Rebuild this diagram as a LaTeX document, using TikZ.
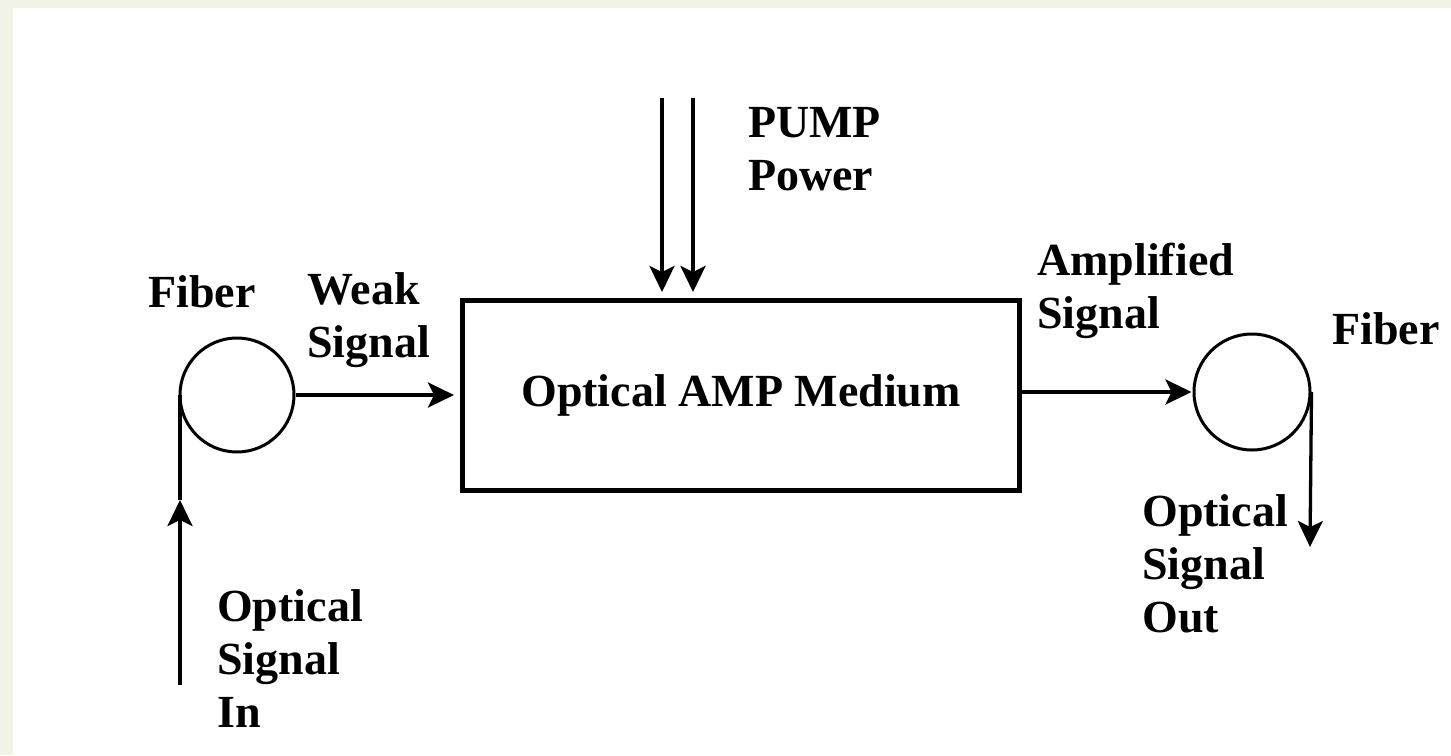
\documentclass[tikz,border=0pt]{standalone}
\usepackage{fontspec}
\setmainfont{Liberation Serif}
\usetikzlibrary{arrows.meta}
\definecolor{bgc}{HTML}{F0F3E6}
\begin{document}
\begin{tikzpicture}[x=1pt,y=-1pt,
  lbl/.style={font=\fontsize{46}{53}\selectfont\bfseries, inner sep=0pt, anchor=base west, align=left},
  conn/.style={line width=3.3pt, -{Stealth[length=26pt,width=25pt,inset=6pt]}},
  plain/.style={line width=3.3pt},
  fibre/.style={circle, draw, line width=3pt, inner sep=0pt},
  medium/.style={rectangle, draw, line width=5pt, minimum width=557pt, minimum height=190pt, inner sep=0pt,
                 font=\fontsize{46}{53}\selectfont\bfseries}]
\useasboundingbox (0,0) rectangle (1451,755);
\fill[bgc] (0,0) rectangle (1451,755);
\fill[white] (13,8) rectangle (1451,755);

\node[medium] (box) at (741,395.5) {Optical AMP Medium};
\node[fibre, minimum size=114pt] (lc) at (237,395) {};
\node[fibre, minimum size=116pt] (rc) at (1252,392) {};

\coordinate (p1) at (662,98);
\coordinate (p2) at (693,98);
\coordinate (inbot) at (180,685);
\coordinate (inmid) at (180,500);
\coordinate (outend) at (1310,547);

\draw[conn, shorten >=6pt] (p1) -- (p1 |- box.north);
\draw[conn, shorten >=6pt] (p2) -- (p2 |- box.north);
\draw[conn, shorten >=6pt] (lc.east) -- (lc.east -| box.west);
\draw[conn, shorten >=1pt] (box.east |- rc.west) -- (rc.west);
\draw[conn] (inbot) -- (inmid);
\draw[plain] (inmid) -- (inmid |- lc.west);
\draw[conn] (rc.east) -- (outend);

\node[lbl] (fibl) at (148,307) {Fiber};
\node[lbl] (weak) at (307,357) {Weak\\Signal};
\node[lbl] (pump) at (748,190) {PUMP\\Power};
\node[lbl] (ampl) at (1037,328) {Amplified\\Signal};
\node[lbl] (fibr) at (1332,344) {Fiber};
\node[lbl] (sout) at (1142,632) {Optical\\Signal\\Out};
\node[lbl] (sin) at (217,727) {Optical\\Signal\\In};
\end{tikzpicture}
\end{document}
